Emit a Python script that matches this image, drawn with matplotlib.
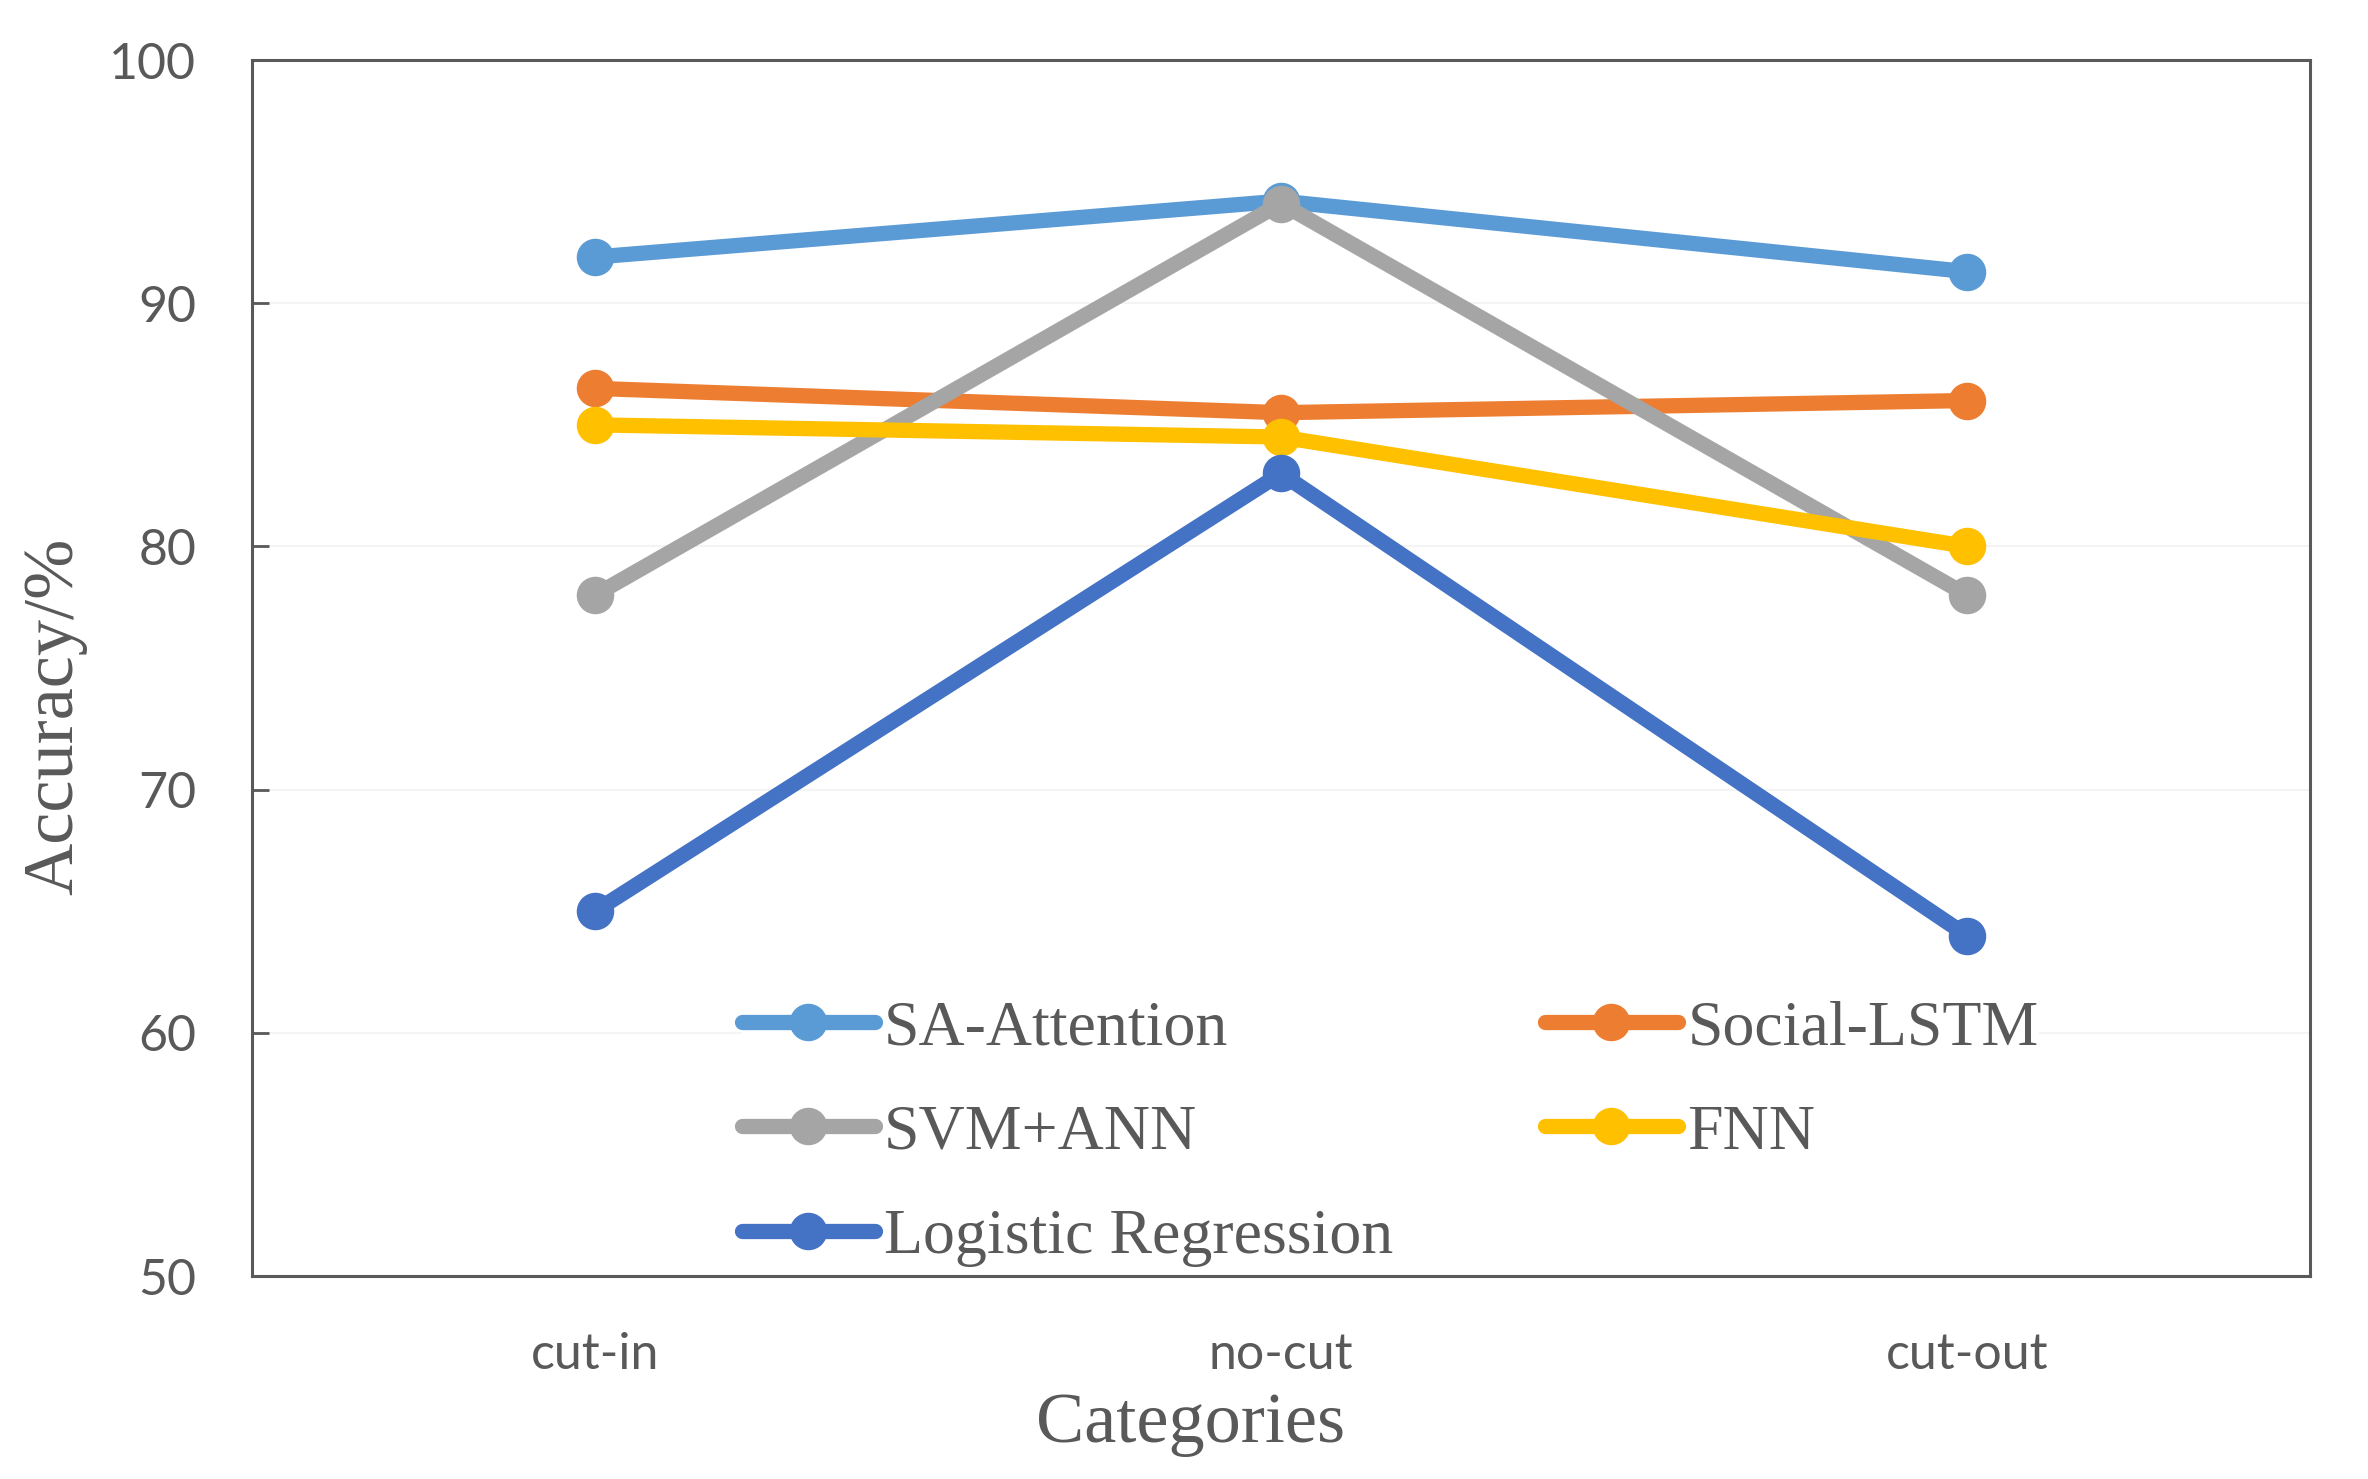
import numpy as np
import matplotlib
matplotlib.use('Agg')
import matplotlib.pyplot as plt

categories = ['cut-in', 'no-cut', 'cut-out']
sa_attention = [91.9, 94.2, 91.3]
social_lstm = [86.5, 85.5, 86.0]
svm_ann = [78.0, 94.1, 78.0]
fnn = [85.0, 84.5, 80.0]
logistic = [65.0, 83.0, 64.0]

series_names = ['SA-Attention', 'Social-LSTM', 'SVM+ANN', 'FNN', 'Logistic Regression']
series_values = [sa_attention, social_lstm, svm_ann, fnn, logistic]
colors = ['#5B9BD5', '#ED7D31', '#A5A5A5', '#FFC000', '#4472C4']

yticks = [50, 60, 70, 80, 90, 100]

text_col = '#595959'
serif = ['Liberation Serif', 'DejaVu Serif']
sans = ['Lato', 'DejaVu Sans']

fig = plt.figure(figsize=(23.68, 14.79), dpi=100)
ax = fig.add_axes([0.1064, 0.1372, 0.8691, 0.8222])

x = np.arange(len(categories))
lines = {}
for name, vals, c in zip(series_names, series_values, colors):
    ln, = ax.plot(x, vals, color=c, linewidth=11, marker='o', markersize=26,
                  solid_capstyle='round', label=name)
    lines[name] = ln

ax.set_xlim(-0.5, 2.5)
ax.set_ylim(50, 100)
ax.set_yticks(yticks)
ax.set_xticks(x)
ax.set_xticklabels(categories)

# faint grid like the excel default
ax.grid(axis='y', color='#F4F4F4', linewidth=1.5)
ax.set_axisbelow(True)

for s in ax.spines.values():
    s.set_color(text_col)
    s.set_linewidth(2.2)

ax.tick_params(axis='y', direction='in', length=12, width=2, color=text_col,
               pad=40, labelsize=36, labelcolor=text_col)
ax.tick_params(axis='x', length=0, pad=40, labelsize=36, labelcolor=text_col)
for lab in ax.get_xticklabels() + ax.get_yticklabels():
    lab.set_family(sans)

ax.set_ylabel('Accuracy/%', fontsize=52, color=text_col, family=serif)
ax.yaxis.set_label_coords(-0.080, 0.46)
ax.set_xlabel('Categories', fontsize=52, color=text_col, family=serif)
ax.xaxis.set_label_coords(0.456, -0.095)

# row-major legend order as in the original
order = ['SA-Attention', 'SVM+ANN', 'Logistic Regression', 'Social-LSTM', 'FNN']
leg = ax.legend([lines[n] for n in order], order, ncol=2, loc='upper left',
                bbox_to_anchor=(0.238, 0.227), borderpad=0, borderaxespad=0,
                handlelength=2.08, handletextpad=0.15, columnspacing=2.37,
                labelspacing=0.71, frameon=True, fancybox=False,
                prop={'family': serif, 'size': 46})
leg.get_frame().set_facecolor('white')
leg.get_frame().set_edgecolor('none')
leg.get_frame().set_alpha(1)
for t in leg.get_texts():
    t.set_color(text_col)

fig.savefig('out.png', dpi=100)
